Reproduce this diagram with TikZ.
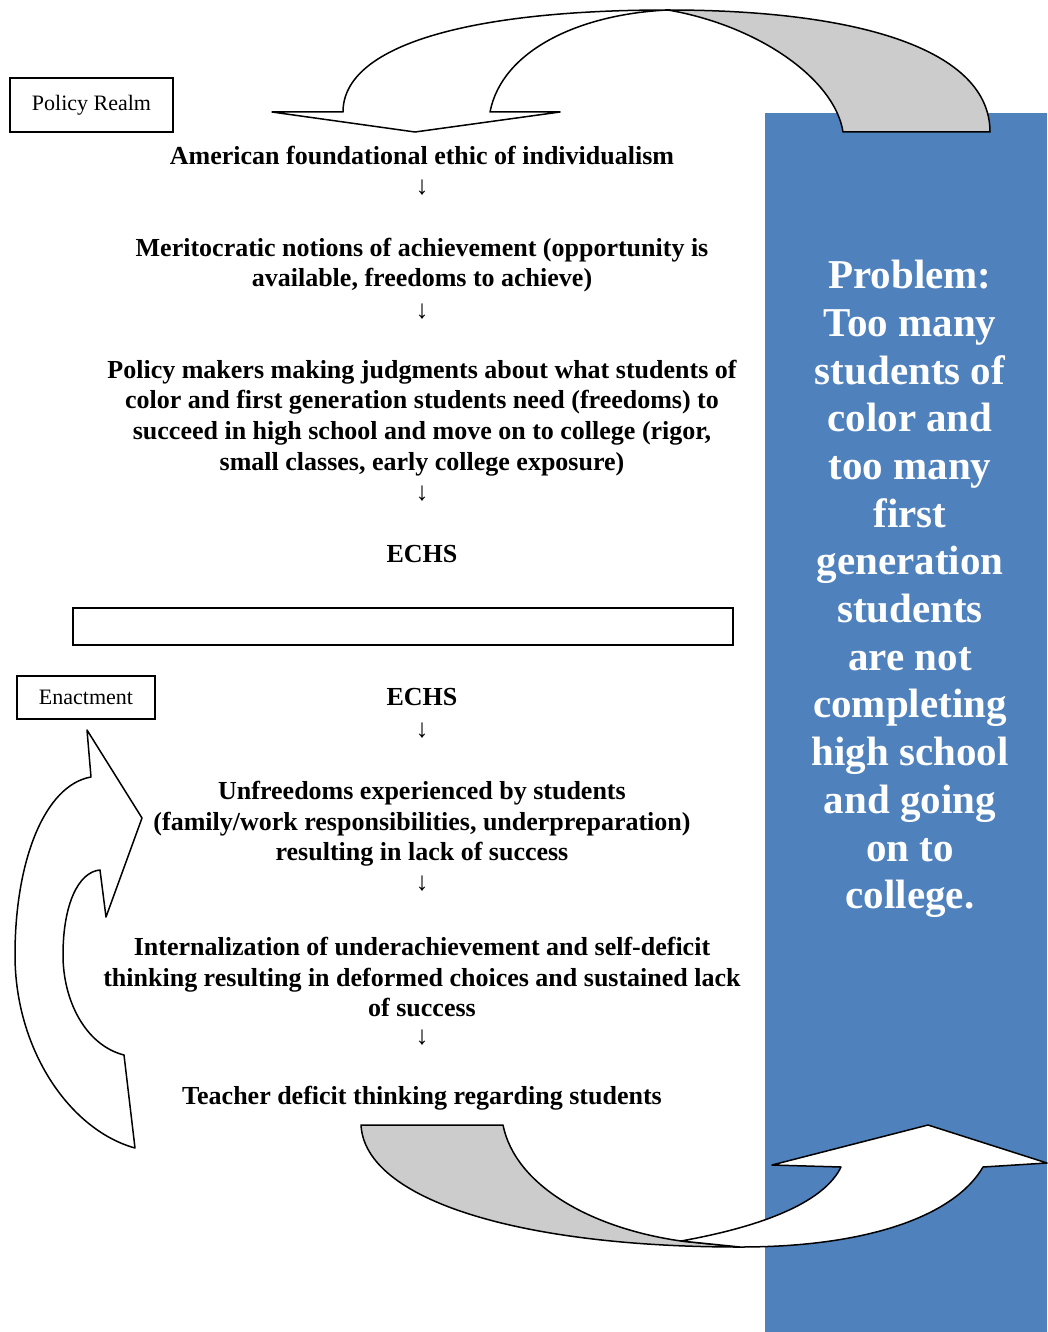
\documentclass[tikz,border=0pt]{standalone}
\usepackage{fontspec}
\setmainfont{Liberation Serif}
\usetikzlibrary{positioning}
\definecolor{probblue}{RGB}{79,129,189}

\begin{document}
\begin{tikzpicture}[x=1pt,y=-1pt]
  \tikzset{>=latex}
  \def\cx{422}
  \tikzset{
    realm/.style={draw,line width=1.3pt,inner sep=0pt,font=\fontsize{22}{25}\selectfont},
    stage/.style={font=\bfseries\fontsize{26}{30.7}\selectfont,align=center,inner sep=0pt},
    downarr/.style={font=\fontsize{26}{30}\selectfont,inner sep=0pt},
    band/.style={draw,line width=1.5pt,line join=round}
  }
  \useasboundingbox (0,0) rectangle (1047,1332);
  \fill[probblue] (765,113) rectangle (1047,1332);

  % top curved arrow
  \filldraw[band,fill=gray!40] (668,10) .. controls (860,10) and (990,50) .. (990,132)
    -- (843,132) .. controls (835,80) and (760,26) .. (668,10) -- cycle;
  \filldraw[band,fill=white] (343,112) .. controls (343,45) and (470,10) .. (668,10)
    .. controls (580,14) and (502,50) .. (490,112) -- (560,112) -- (415,132)
    -- (272,112) -- cycle;

  % bottom curved arrow
  \filldraw[band,fill=gray!40] (361,1125) -- (503,1125) .. controls (515,1185) and (590,1228) .. (681,1241)
    -- (740,1247) .. controls (520,1247) and (365,1200) .. (361,1125) -- cycle;
  \filldraw[band,fill=white] (681,1241) .. controls (770,1225) and (825,1200) .. (841,1167)
    -- (772,1165) -- (928,1125) -- (1047,1163) -- (983,1167)
    .. controls (955,1215) and (870,1247) .. (740,1247) -- cycle;

  % left curved arrow
  \filldraw[band,fill=white] (91,777) .. controls (45,785) and (15,860) .. (15,955)
    .. controls (15,1050) and (70,1130) .. (135,1148) -- (124,1055)
    .. controls (85,1045) and (63,1000) .. (63,955) .. controls (63,905) and (78,872) .. (100,870)
    -- (106,917) -- (142,818) -- (87,730) -- cycle;

  \node[realm,minimum width=163,minimum height=54] (realm) at (91.5,105) {Policy Realm};
  \node[realm,minimum width=138,minimum height=43] (enact) at (86,697.5) {Enactment};
  \node[draw,line width=1.3pt,minimum width=660,minimum height=37] (gapbox) at (403,626.5) {};

  \node[stage] (amer) at (\cx,156) {American foundational ethic of individualism};
  \node[downarr] (d1) at (\cx,188) {↓};
  \node[stage] (merit) at (\cx,265) {Meritocratic notions of achievement (opportunity is\\available, freedoms to achieve)};
  \node[downarr] (d2) at (\cx,312) {↓};
  \node[stage] (policy) at (\cx,418) {Policy makers making judgments about what students of\\color and first generation students need (freedoms) to\\succeed in high school and move on to college (rigor,\\small classes, early college exposure)};
  \node[downarr] (d3) at (\cx,494) {↓};
  \node[stage] (echsA) at (\cx,554) {ECHS};
  \node[stage] (echsB) at (\cx,697) {ECHS};
  \node[downarr] (d4) at (\cx,731) {↓};
  \node[stage] (unfree) at (\cx,824) {Unfreedoms experienced by students\\(family/work responsibilities, underpreparation)\\resulting in lack of success};
  \node[downarr] (d5) at (\cx,884) {↓};
  \node[stage] (intern) at (\cx,977) {Internalization of underachievement and self-deficit\\thinking resulting in deformed choices and sustained lack\\of success};
  \node[downarr] (d6) at (\cx,1038) {↓};
  \node[stage] (teach) at (\cx,1098) {Teacher deficit thinking regarding students};

  \node[white,font=\bfseries\fontsize{41}{47.7}\selectfont,align=center,inner sep=0pt] (probl) at (910,589)
    {Problem:\\Too many\\students of\\color and\\too many\\first\\generation\\students\\are not\\completing\\high school\\and going\\on to\\college.};
\end{tikzpicture}
\end{document}
